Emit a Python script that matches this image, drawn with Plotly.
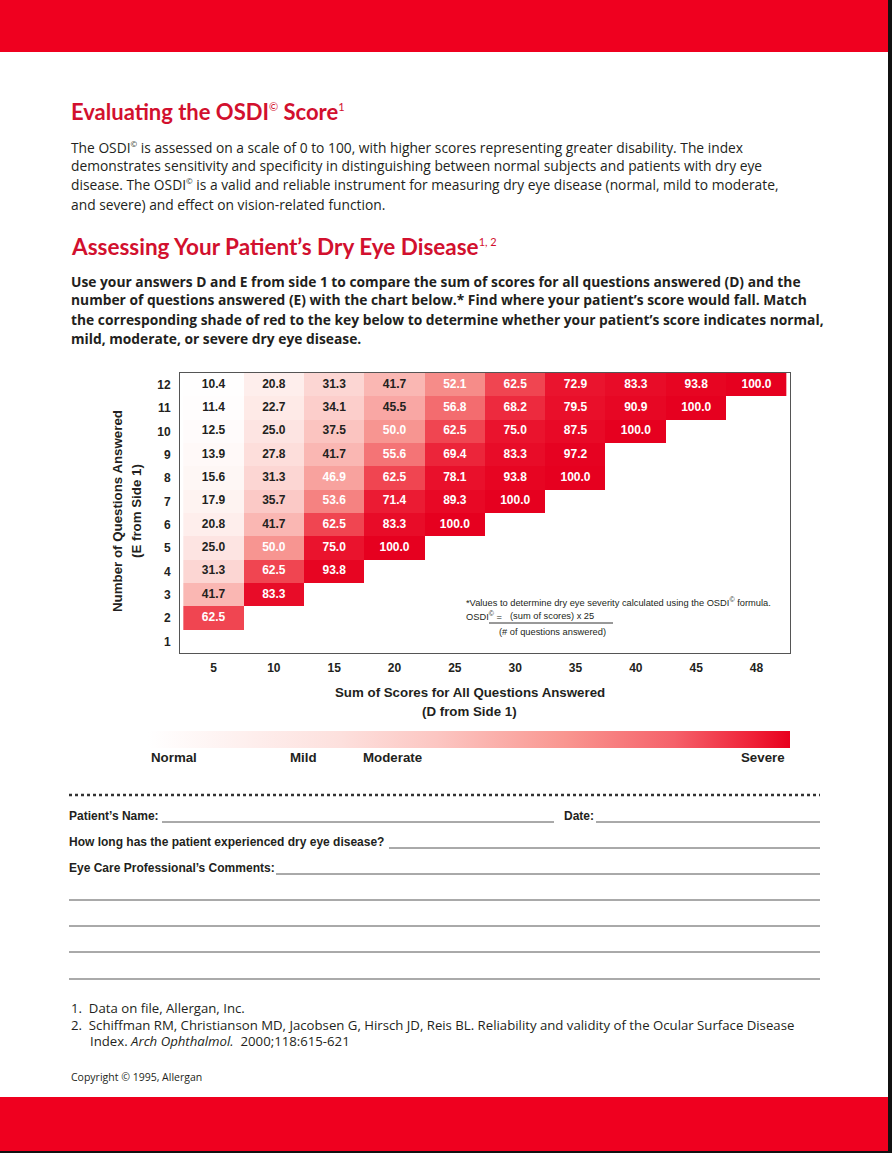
import plotly.graph_objects as go

W, H = 892, 1153

# OSDI score = (sum of scores) x 25 / (# of questions answered)
sum_labels = ['5', '10', '15', '20', '25', '30', '35', '40', '45', '48']
questions = [1, 2, 3, 4, 5, 6, 7, 8, 9, 10, 11, 12]
osdi_1 = [None, None, None, None, None, None, None, None, None, None]
osdi_2 = [62.5, None, None, None, None, None, None, None, None, None]
osdi_3 = [41.7, 83.3, None, None, None, None, None, None, None, None]
osdi_4 = [31.3, 62.5, 93.8, None, None, None, None, None, None, None]
osdi_5 = [25.0, 50.0, 75.0, 100.0, None, None, None, None, None, None]
osdi_6 = [20.8, 41.7, 62.5, 83.3, 100.0, None, None, None, None, None]
osdi_7 = [17.9, 35.7, 53.6, 71.4, 89.3, 100.0, None, None, None, None]
osdi_8 = [15.6, 31.3, 46.9, 62.5, 78.1, 93.8, 100.0, None, None, None]
osdi_9 = [13.9, 27.8, 41.7, 55.6, 69.4, 83.3, 97.2, None, None, None]
osdi_10 = [12.5, 25.0, 37.5, 50.0, 62.5, 75.0, 87.5, 100.0, None, None]
osdi_11 = [11.4, 22.7, 34.1, 45.5, 56.8, 68.2, 79.5, 90.9, 100.0, None]
osdi_12 = [10.4, 20.8, 31.3, 41.7, 52.1, 62.5, 72.9, 83.3, 93.8, 100.0]
z = [osdi_1, osdi_2, osdi_3, osdi_4, osdi_5, osdi_6,
     osdi_7, osdi_8, osdi_9, osdi_10, osdi_11, osdi_12]

severity_labels = ['Normal', 'Mild', 'Moderate', 'Severe']

RED = '#EF001F'
TITLE_RED = '#D2102E'
INK = '#231F20'
HEAD = 'Lato, "Open Sans", sans-serif'
BODY = '"Open Sans", Lato, sans-serif'
NARROW = '"Liberation Sans", Arial, sans-serif'

cell_scale = [[0, '#ffffff'], [0.11, '#fef0ee'], [0.25, '#fcd3d0'],
              [0.35, '#fab8b4'], [0.47, '#f68b88'], [0.58, '#f04652'],
              [0.7, '#ea142e'], [1, '#e6001f']]
key_scale = [[0, '#ffffff'], [0.3, '#fde0dd'], [0.45, '#fcc6c2'],
             [0.65, '#f99690'], [0.82, '#f5616a'], [0.94, '#ef2238'], [1, '#e8001e']]


def px(x):
    return x / W


def py(y):
    return 1 - y / H


def ann(x, y, text, size, color=INK, family=BODY, xanchor='left', angle=0):
    return dict(x=px(x), y=py(y), xref='paper', yref='paper', text=text,
                showarrow=False, xanchor=xanchor, yanchor='middle',
                textangle=angle, font=dict(family=family, size=size, color=color))


def sup(t, size):
    return '<sup><span style="font-size:%dpx">%s</span></sup>' % (size, t)


def hline(x0, x1, y, color='#555555', width=1, dash=None):
    return dict(type='line', xref='paper', yref='paper',
                x0=px(x0), x1=px(x1), y0=py(y), y1=py(y),
                line=dict(color=color, width=width, dash=dash))


def rect(x0, y0, x1, y1, color):
    return dict(type='rect', xref='paper', yref='paper', layer='below',
                x0=px(x0), x1=px(x1), y0=py(y0), y1=py(y1),
                line=dict(width=0), fillcolor=color)


heat = go.Heatmap(
    x=sum_labels, y=questions, z=z,
    colorscale=cell_scale, zmin=10, zmax=100,
    showscale=False, hoverongaps=False
)

tx, ty, tt, tc, tv = [], [], [], [], []
for q, row in zip(questions, z):
    for s, v in zip(sum_labels, row):
        if v is None:
            continue
        tx.append(s)
        ty.append(q)
        tt.append('<b>%.1f</b>' % v)
        tc.append(INK if v < 46 else '#ffffff')
        tv.append(v)

labels = go.Scatter(
    x=tx, y=ty, text=tt, mode='text+markers',
    textfont=dict(family=NARROW, size=12, color=tc),
    marker=dict(size=1, opacity=0, color=tv, colorscale=key_scale, cmin=0, cmax=100,
                showscale=True,
                colorbar=dict(orientation='h', x=px(148), xanchor='left',
                              y=py(731), yanchor='top', len=642, lenmode='pixels',
                              thickness=17, thicknessmode='pixels',
                              xpad=0, ypad=0, outlinewidth=0,
                              showticklabels=False, ticks='')),
    hoverinfo='skip', showlegend=False
)

fig = go.Figure(data=[heat, labels])

osdi = 'OSDI' + sup('©', 8)
annotations = [
    ann(69, 111, '<b>Evaluating the OSDI</b>' + sup('©', 11) + '<b> Score</b>' + sup('1', 11), 22, TITLE_RED, HEAD),
    ann(69, 147, 'The %s is assessed on a scale of 0 to 100, with higher scores representing greater disability. The index' % osdi, 13.8),
    ann(69, 166, 'demonstrates sensitivity and specificity in distinguishing between normal subjects and patients with dry eye', 13.8),
    ann(69, 185, 'disease. The %s is a valid and reliable instrument for measuring dry eye disease (normal, mild to moderate,' % osdi, 13.8),
    ann(69, 204, 'and severe) and effect on vision-related function.', 13.8),
    ann(69, 246, '<b>Assessing Your Patient’s Dry Eye Disease</b>' + sup('1, 2', 11), 22.5, TITLE_RED, HEAD),
    ann(69, 281, '<b>Use your answers D and E from side 1 to compare the sum of scores for all questions answered (D) and the</b>', 13.8),
    ann(69, 300, '<b>number of questions answered (E) with the chart below.* Find where your patient’s score would fall. Match</b>', 13.8),
    ann(69, 319, '<b>the corresponding shade of red to the key below to determine whether your patient’s score indicates normal,</b>', 13.8),
    ann(69, 338, '<b>mild, moderate, or severe dry eye disease.</b>', 13.8),
    # chart axis titles
    ann(118, 511, '<b>Number of Questions Answered</b>', 13.3, family=NARROW, xanchor='center', angle=-90),
    ann(137, 511, '<b>(E from Side 1)</b>', 13.3, family=NARROW, xanchor='center', angle=-90),
    ann(470, 692, '<b>Sum of Scores for All Questions Answered</b>', 13.3, family=NARROW, xanchor='center'),
    ann(470, 711, '<b>(D from Side 1)</b>', 13.3, family=NARROW, xanchor='center'),
    # formula note
    ann(464, 602, '*Values to determine dry eye severity calculated using the OSDI' + sup('©', 7) + ' formula.', 9.3, family=NARROW),
    ann(464, 616, 'OSDI' + sup('©', 7) + ' =', 9.3, family=NARROW),
    ann(552, 616, '(sum of scores) x 25', 9.3, family=NARROW, xanchor='center'),
    ann(552, 632, '(# of questions answered)', 9.3, family=NARROW, xanchor='center'),
    # severity key
    ann(149, 757, '<b>%s</b>' % severity_labels[0], 13.3, family=NARROW),
    ann(288, 757, '<b>%s</b>' % severity_labels[1], 13.3, family=NARROW),
    ann(361, 757, '<b>%s</b>' % severity_labels[2], 13.3, family=NARROW),
    ann(787, 757, '<b>%s</b>' % severity_labels[3], 13.3, family=NARROW, xanchor='right'),
    # form
    ann(67, 816, '<b>Patient’s Name:</b>', 12, family=NARROW),
    ann(562, 816, '<b>Date:</b>', 12, family=NARROW),
    ann(67, 842, '<b>How long has the patient experienced dry eye disease?</b>', 12, family=NARROW),
    ann(67, 868, '<b>Eye Care Professional’s Comments:</b>', 12, family=NARROW),
    # references
    ann(69, 1008, '1.  Data on file, Allergan, Inc.', 13.2),
    ann(69, 1025, '2.  Schiffman RM, Christianson MD, Jacobsen G, Hirsch JD, Reis BL. Reliability and validity of the Ocular Surface Disease', 13.2),
    ann(88, 1041, 'Index. <i>Arch Ophthalmol.</i>  2000;118:615-621', 13.2),
    ann(69, 1077, 'Copyright © 1995, Allergan', 10.5),
]

shapes = [
    rect(0, 0, 889, 52, RED),
    rect(0, 1097, 889, 1151, RED),
    rect(888, 0, 892, 1153, '#111111'),
    rect(0, 1151, 892, 1153, '#111111'),
    hline(489, 613, 623, '#333333', 1),
    hline(69, 820, 795, '#333333', 2.5, 'dot'),
    hline(162, 554, 822),
    hline(596, 820, 822),
    hline(389, 820, 848),
    hline(276, 820, 874),
    hline(69, 820, 900),
    hline(69, 820, 926),
    hline(69, 820, 952),
    hline(69, 820, 979, '#aaaaaa', 2),
]

axis_font = dict(family=NARROW, size=12, color=INK)
fig.update_layout(
    width=W, height=H, autosize=False,
    margin=dict(l=0, r=0, t=0, b=0),
    paper_bgcolor='white', plot_bgcolor='white',
    showlegend=False,
    xaxis=dict(type='category', domain=[px(180), px(790)],
               showline=True, mirror=True, linecolor='#555555', linewidth=1,
               showgrid=False, zeroline=False, ticks='', ticklabelstandoff=4,
               tickfont=axis_font, tickprefix='<b>', ticksuffix='</b>', fixedrange=True),
    yaxis=dict(domain=[py(653), py(373)], range=[0.5, 12.5], dtick=1,
               showline=True, mirror=True, linecolor='#555555', linewidth=1,
               showgrid=False, zeroline=False, ticks='', ticklabelstandoff=6,
               tickfont=axis_font, tickprefix='<b>', ticksuffix='</b>', fixedrange=True),
    annotations=annotations,
    shapes=shapes,
)

fig.write_html('out.html', config={'displayModeBar': False},
               post_script="document.body.style.margin='0';")
